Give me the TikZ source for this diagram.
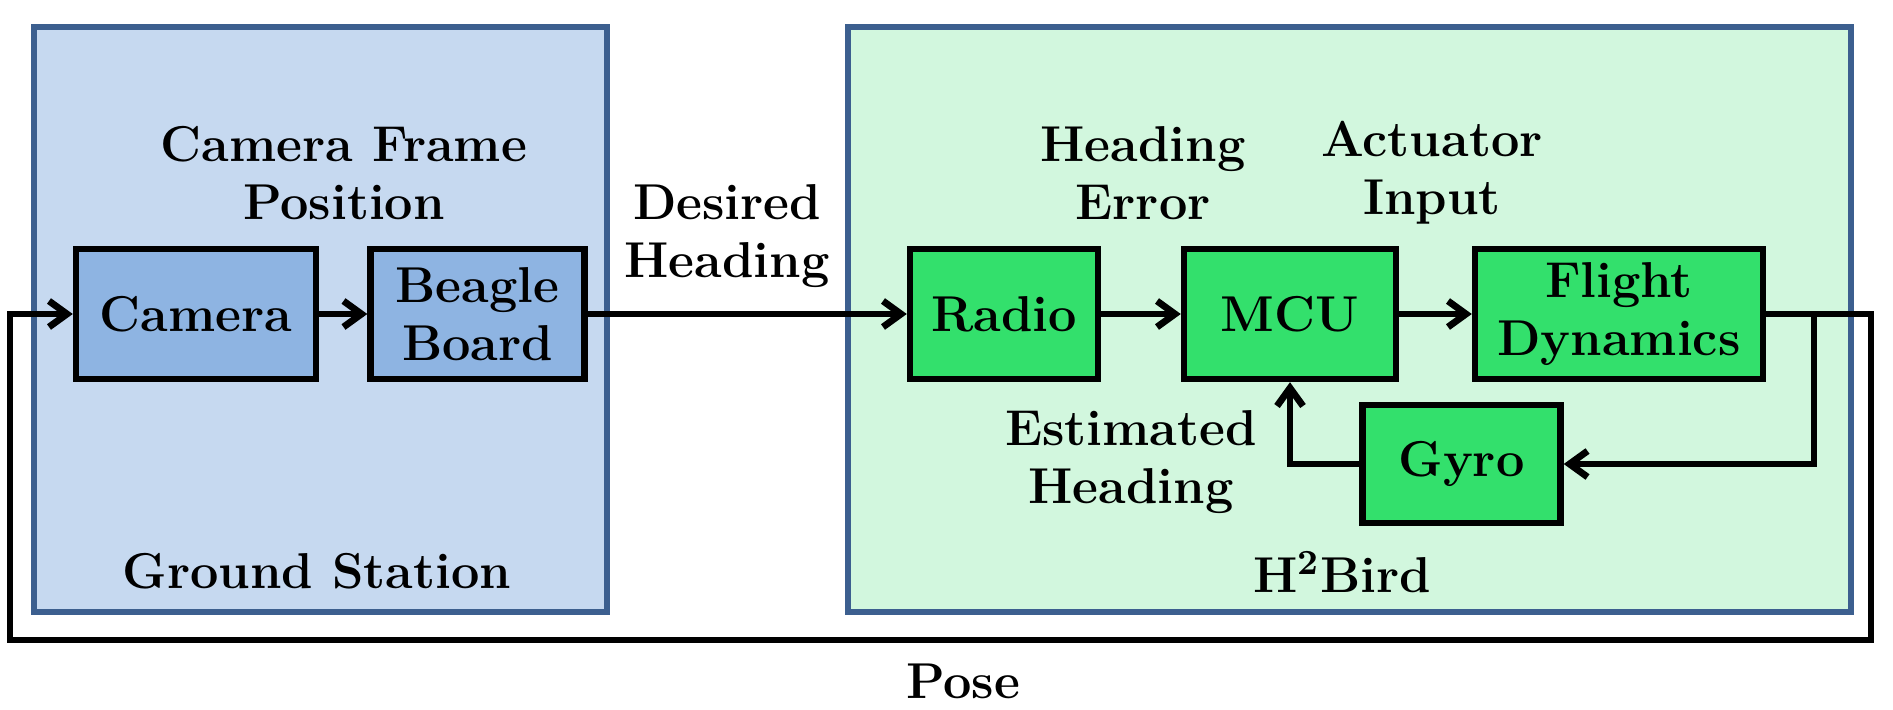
\documentclass[tikz,border=0pt]{standalone}
\usepackage{xcolor}
\usetikzlibrary{positioning, arrows.meta}
\definecolor{gsfill}{RGB}{198,217,240}
\definecolor{gsline}{RGB}{60,95,143}
\definecolor{camfill}{RGB}{142,180,226}
\definecolor{birdfill}{RGB}{210,247,222}
\definecolor{blockgreen}{RGB}{51,224,108}
\newcommand{\diagfont}{\fontsize{12.6pt}{14.6pt}\selectfont\bfseries}
\tikzset{
  groupbox/.style={draw=gsline, line width=1.5pt},
  block/.style={draw=black, line width=1.6pt, align=center, font=\diagfont, inner sep=0pt},
  lbl/.style={align=center, font=\diagfont},
  wire/.style={line width=1.7pt},
}
\begin{document}
\begin{tikzpicture}[x=0.25pt, y=0.25pt, > = {Straight Barb[length=4.5pt,width=6.5pt]}]
    \useasboundingbox (0,0) rectangle (1893,709);
    % group backgrounds
    \draw[groupbox, fill=gsfill] (34,682) rectangle (607,97);
    \draw[groupbox, fill=birdfill] (848,682) rectangle (1851,97);
    \node[lbl] (gslbl) at (317,138) {Ground Station};
    \node[lbl] (birdlbl) at (1342,137) {H\textsuperscript{2}Bird};
    % blocks
    \node[block, fill=camfill, minimum width=60pt, minimum height=32.5pt] (cam) at (196,395) {Camera};
    \node[block, fill=camfill, minimum width=53.5pt, minimum height=32.5pt] (bb) at (477.5,395) {Beagle\\Board};
    \node[block, fill=blockgreen, minimum width=47pt, minimum height=32.5pt] (radio) at (1004,395) {Radio};
    \node[block, fill=blockgreen, minimum width=53pt, minimum height=32.5pt] (mcu) at (1290,395) {MCU};
    \node[block, fill=blockgreen, minimum width=72pt, minimum height=32.5pt] (fd) at (1619,395) {Flight\\Dynamics};
    \node[block, fill=blockgreen, minimum width=49.5pt, minimum height=29.5pt] (gyro) at (1461.5,245) {Gyro};
    % signal labels
    \node[lbl] (cfp) at (344,536) {Camera Frame\\Position};
    \node[lbl] (dh) at (727,473) {Desired\\Heading};
    \node[lbl] (he) at (1143,536) {Heading\\Error};
    \node[lbl] (ai) at (1432,536) {Actuator\\Input};
    \node[lbl] (eh) at (1131,247) {Estimated\\Heading};
    \node[lbl] (pose) at (963,28) {Pose};
    % connectors
    \coordinate (branch) at (1814,395);
    \coordinate (outer) at (1871,395);
    \coordinate (low) at (1871,69);
    \coordinate (back) at (10,69);
    \draw[wire, ->] (cam) -- (bb);
    \draw[wire, ->] (bb) -- (radio);
    \draw[wire, ->] (radio) -- (mcu);
    \draw[wire, ->] (mcu) -- (fd);
    \draw[wire, ->] (fd.east) -- (branch) |- (gyro.east);
    \draw[wire, ->] (gyro.west) -| (mcu.south);
    \draw[wire, ->] (branch) -- (outer) -- (low) -- (back) |- (cam.west);
\end{tikzpicture}
\end{document}
